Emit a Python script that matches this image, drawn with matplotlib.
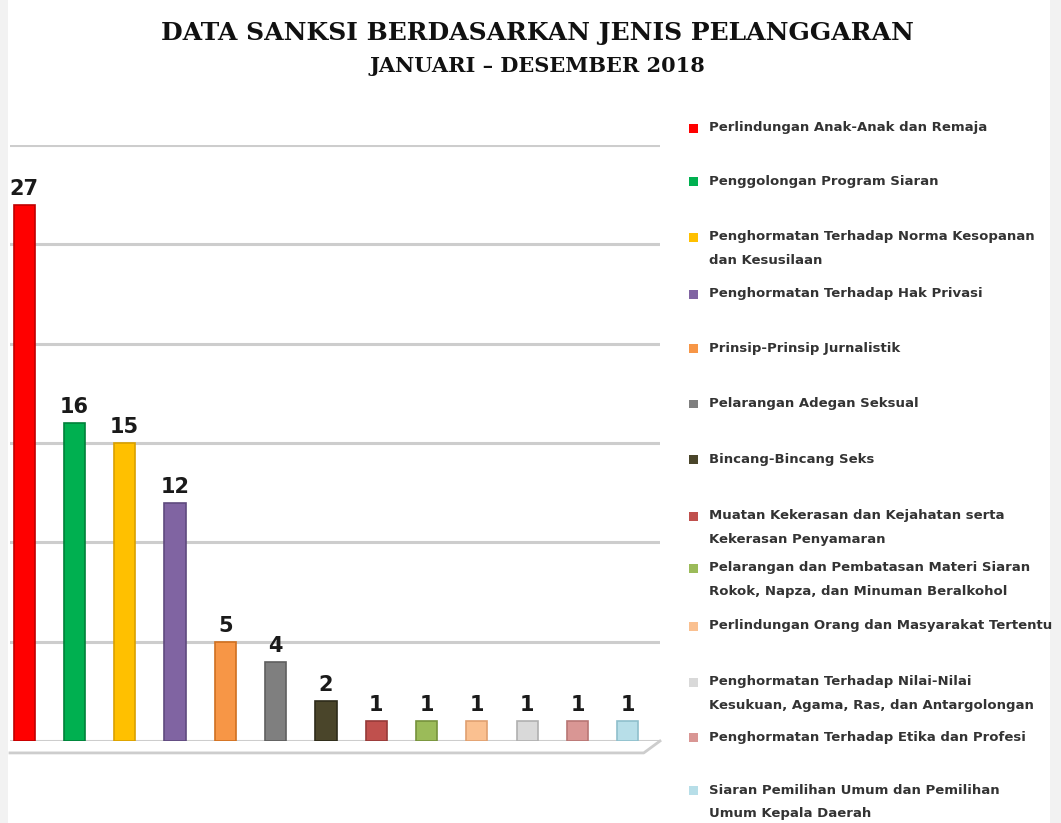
import matplotlib
matplotlib.use("Agg")
import matplotlib.pyplot as plt
from matplotlib.patches import Rectangle
from matplotlib.lines import Line2D

categories = [
    "Perlindungan Anak-Anak dan Remaja",
    "Penggolongan Program Siaran",
    "Penghormatan Terhadap Norma Kesopanan\ndan Kesusilaan",
    "Penghormatan Terhadap Hak Privasi",
    "Prinsip-Prinsip Jurnalistik",
    "Pelarangan Adegan Seksual",
    "Bincang-Bincang Seks",
    "Muatan Kekerasan dan Kejahatan serta\nKekerasan Penyamaran",
    "Pelarangan dan Pembatasan Materi Siaran\nRokok, Napza, dan Minuman Beralkohol",
    "Perlindungan Orang dan Masyarakat Tertentu",
    "Penghormatan Terhadap Nilai-Nilai\nKesukuan, Agama, Ras, dan Antargolongan",
    "Penghormatan Terhadap Etika dan Profesi",
    "Siaran Pemilihan Umum dan Pemilihan\nUmum Kepala Daerah",
]
values = [27, 16, 15, 12, 5, 4, 2, 1, 1, 1, 1, 1, 1]
colors = ["#FF0000", "#00B050", "#FFC000", "#8064A2", "#F79646", "#7F7F7F",
          "#4A452A", "#C0504D", "#9BBB59", "#FAC090", "#D9D9D9", "#D99694", "#B7DEE8"]
edge_colors = ["#C00000", "#00803A", "#D9A000", "#5F4A7E", "#D07020", "#5F5F5F",
               "#2E2B1A", "#963A38", "#76923C", "#E0A070", "#B0B0B0", "#B87674", "#8FBFCC"]
legend_y = [128, 181, 249, 294, 348, 404, 460, 528, 580, 626, 694, 737, 802]

title = "DATA SANKSI BERDASARKAN JENIS PELANGGARAN"
subtitle = "JANUARI \u2013 DESEMBER 2018"

W, H = 1061, 823
fig = plt.figure(figsize=(W / 100, H / 100), dpi=100)
fig.patch.set_facecolor("white")

# light side strips like the reference screenshot
fig.patches.append(Rectangle((0, 0), 8 / W, 1, transform=fig.transFigure,
                             facecolor="#F2F2F2", edgecolor="none", zorder=0))
fig.patches.append(Rectangle((1050 / W, 0), 11 / W, 1, transform=fig.transFigure,
                             facecolor="#F2F2F2", edgecolor="none", zorder=0))

ax = fig.add_axes([10 / W, 1 - 741 / H, 650 / W, (741 - 145) / H])
x = list(range(len(values)))
ax.bar(x, values, width=0.42, color=colors, edgecolor=edge_colors,
       linewidth=1.2, zorder=3)
for xi, v in zip(x, values):
    ax.text(xi, v + 0.3, str(v), ha="center", va="bottom",
            fontsize=15, fontweight="bold", color="#1A1A1A",
            family="DejaVu Sans", zorder=4)

ax.set_xlim(-0.28, 12.64)
ax.set_ylim(0, 30)
ax.set_yticks([0, 5, 10, 15, 20, 25, 30])
ax.set_xticks([])
ax.tick_params(left=False, labelleft=False)
ax.grid(axis="y", color="#CDCDCD", linewidth=2.2, zorder=0)
for s in ax.spines.values():
    s.set_visible(False)
ax.set_facecolor("none")

# 3D floor hint under the baseline
ax.add_line(Line2D([0, 0.975, 1.0], [-0.02, -0.02, 0.0], transform=ax.transAxes,
                   color="#CDCDCD", linewidth=2, clip_on=False, zorder=1))

fig.text(537 / W, 1 - 33 / H, title, ha="center", va="center",
         fontsize=18, fontweight="bold", family="DejaVu Serif", color="#111111")
fig.text(537 / W, 1 - 66 / H, subtitle, ha="center", va="center",
         fontsize=15, fontweight="bold", family="DejaVu Serif", color="#111111")

# legend
for lab, c, ly in zip(categories, colors, legend_y):
    lines = lab.split("\n")
    top = ly if len(lines) == 1 else ly - 12
    fig.patches.append(Rectangle((689 / W, 1 - (top + 4.5) / H), 9 / W, 9 / H,
                                 transform=fig.transFigure, facecolor=c,
                                 edgecolor="none"))
    for k, line in enumerate(lines):
        fig.text(709 / W, 1 - (top + 24 * k) / H, line, ha="left", va="center",
                 fontsize=9.5, fontweight="bold", family="DejaVu Sans",
                 color="#333333")

fig.savefig("out.png", dpi=100, facecolor=fig.get_facecolor())
